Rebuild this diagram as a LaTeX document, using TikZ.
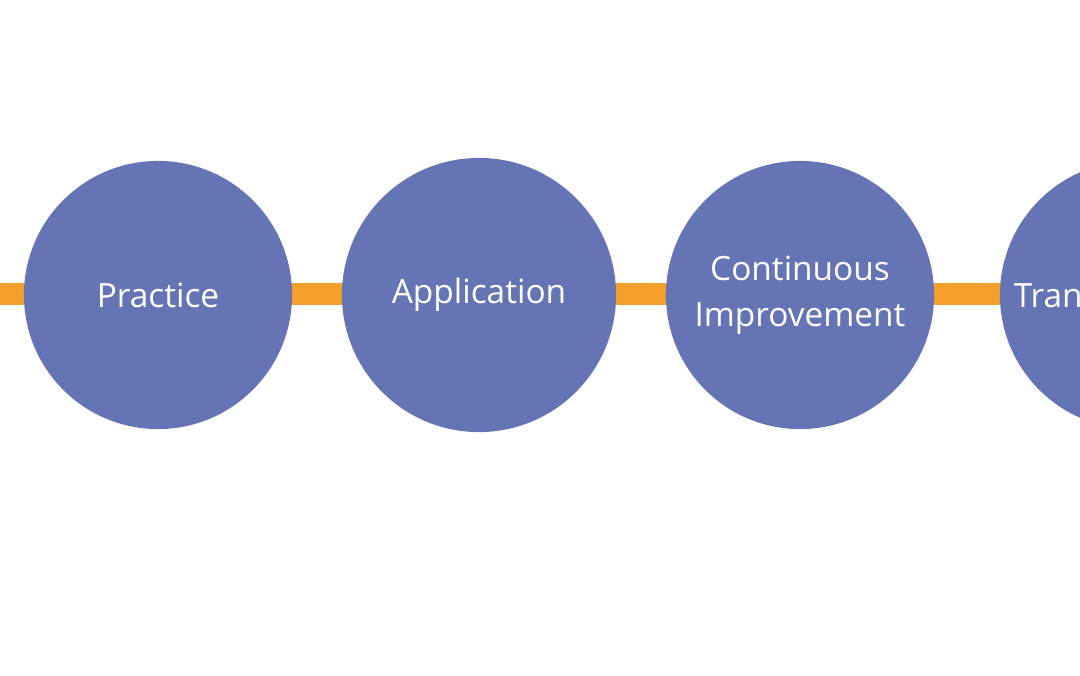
\documentclass[tikz,border=0pt]{standalone}
\usepackage{fontspec}
\setmainfont{Open Sans}
\definecolor{stepblue}{HTML}{6574B5}
\definecolor{barorange}{HTML}{F5A02A}
\begin{document}
\begin{tikzpicture}[x=0.01cm,y=-0.01cm,
    stage/.style={circle, fill=stepblue, text=white, minimum size=2.68cm, inner sep=0pt,
                 align=center, font=\fontsize{9.5}{13}\selectfont}]
    \useasboundingbox (0,0) rectangle (1080,675);
    \clip (0,0) rectangle (1080,675);
    % Bar behind the stages
    \coordinate (start) at (0,294);
    \coordinate (end) at (1080,294);
    \draw[barorange, line width=0.22cm] (start) -- (end);
    % Stages
    \node[stage] (practice) at (158,295) {Practice};
    \node[stage, minimum size=2.74cm] (application) at (479,295) {Application};
    \node[stage] (improvement) at (800,295) {Continuous\\Improvement};
    \node[stage] (transformation) at (1134,295) {Transformation};
\end{tikzpicture}
\end{document}
